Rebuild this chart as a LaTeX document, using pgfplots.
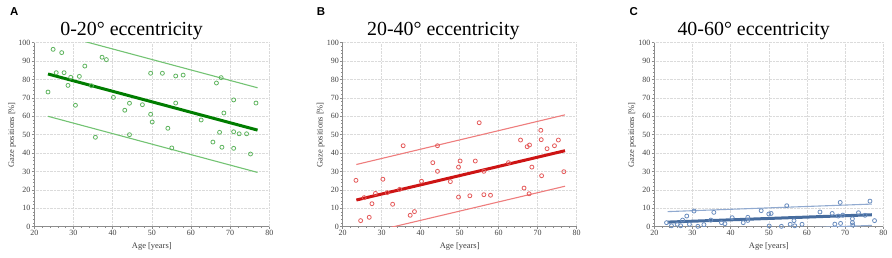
\documentclass[border=0pt]{standalone}
\usepackage{fontspec}
\setmainfont{Liberation Serif}
\newfontfamily\letterfont{Liberation Sans}
\usepackage{pgfplots}
\pgfplotsset{compat=1.18}

\definecolor{gpt}{RGB}{95,180,95}
\definecolor{gln}{RGB}{0,125,0}
\definecolor{gbd}{RGB}{115,195,115}
\definecolor{rpt}{RGB}{228,90,90}
\definecolor{rln}{RGB}{205,20,20}
\definecolor{rbd}{RGB}{238,125,125}
\definecolor{bpt}{RGB}{105,140,190}
\definecolor{bln}{RGB}{70,108,158}
\definecolor{bbd}{RGB}{145,170,208}

\pgfplotsset{
  panel/.style={
    anchor=south west, scale only axis, height=184bp,
    xmin=20, xmax=80, ymin=0, ymax=100,
    xtick={20,30,...,80}, ytick={0,10,...,100},
    minor x tick num=4, minor y tick num=4,
    axis x line*=bottom, axis y line*=left,
    axis line style={black!45, -, line width=0.6bp},
    tick style={black!45, line width=0.5bp},
    tick align=outside, major tick length=2.5bp, minor tick length=1.5bp,
    grid=major, major grid style={black!14, densely dotted, line width=0.45bp},
    ticklabel style={font=\fontsize{8}{8}\selectfont, text=black!75, inner sep=1.2bp},
    /pgf/number format/assume math mode=true,
    xlabel={Age [years]}, ylabel={Gaze positions [\%]},
    label style={font=\fontsize{8.5}{9}\selectfont, text=black!75},
    xlabel style={at={(axis description cs:0.5,0)}, anchor=base, yshift=-21.3bp},
    clip=true,
  },
  pts/.style={only marks, mark=o, mark size=2bp, mark options={line width=0.8bp}},
}

\begin{document}
\begin{tikzpicture}[x=1bp,y=1bp]
\path[use as bounding box] (0,0) rectangle (892,257);

% ---------- Panel A ----------
\begin{axis}[panel, at={(34.3bp,30.3bp)}, width=235bp,
  ylabel style={at={(axis description cs:-0.095,0.5)}, anchor=center}]
\addplot[pts, gpt] coordinates {
(23.5,73.2)(24.8,96.4)(27.0,94.6)(25.6,83.7)(27.6,83.7)(29.3,81.2)(28.6,76.8)
(31.5,81.7)(32.9,87.3)(30.5,66.0)(34.6,76.6)(35.6,48.6)(37.3,92.1)(38.4,90.8)
(40.2,70.3)(43.1,63.3)(44.3,67.1)(44.3,50.0)(47.6,66.3)(49.7,83.4)(49.7,61.1)
(50.1,56.9)(52.7,83.4)(54.1,53.5)(55.1,42.8)(56.1,81.9)(56.1,67.2)(58.0,82.4)
(62.6,58.0)(65.6,46.0)(66.5,78.1)(67.3,51.3)(67.7,81.0)(67.9,43.2)(68.4,61.8)
(70.9,68.9)(70.9,51.6)(70.9,42.6)(72.3,50.5)(74.2,50.5)(75.2,39.5)(76.6,67.2)};
\addplot[gbd, line width=1.1bp] coordinates {(23.5,106) (77,75.5)};
\addplot[gbd, line width=1.1bp] coordinates {(23.5,60) (77,29.5)};
\addplot[gln, line width=3bp] coordinates {(23.5,83) (77,52.5)};
\end{axis}

% ---------- Panel B ----------
\begin{axis}[panel, at={(342.7bp,30.3bp)}, width=234bp,
  ylabel style={at={(axis description cs:-0.095,0.5)}, anchor=center}]
\addplot[pts, rpt] coordinates {
(23.4,25.2)(24.6,3.3)(25.5,15.8)(26.8,5.1)(27.5,12.5)(28.4,18.1)(30.3,25.8)
(31.4,18.5)(32.8,12.2)(34.6,20.3)(35.5,44.0)(37.3,6.2)(38.4,8.2)(40.2,24.7)
(43.1,34.8)(44.3,44.0)(44.3,30.1)(47.6,24.5)(49.7,16.1)(49.7,32.4)(50.1,35.7)
(52.6,16.8)(54.0,35.7)(55.0,56.5)(56.2,30.1)(56.2,17.4)(57.9,17.1)(62.5,34.8)
(65.6,47.1)(66.5,21.0)(67.3,43.5)(67.9,44.4)(67.8,17.9)(68.5,32.4)(70.8,52.4)
(70.9,47.3)(71.0,27.7)(72.4,42.4)(74.3,44.0)(75.3,47.1)(76.7,29.9)};
\addplot[rbd, line width=1.1bp] coordinates {(23.5,33.8) (77,60.8)};
\addplot[rbd, line width=1.1bp] coordinates {(23.5,-4.8) (77,22)};
\addplot[rln, line width=3bp] coordinates {(23.5,14.5) (77,41.3)};
\end{axis}

% ---------- Panel C ----------
\begin{axis}[panel, at={(654.3bp,30.3bp)}, width=229bp,
  ylabel style={at={(axis description cs:-0.0975,0.5)}, anchor=center}]
\addplot[pts, bpt] coordinates {
(23.2,2.2)(24.5,0.5)(26.0,1.3)(26.9,0.5)(27.4,3.6)(28.5,5.8)(29.2,1.3)(30.4,8.5)
(31.4,0.2)(33.0,1.1)(34.8,3.6)(35.6,7.8)(37.6,2.2)(38.5,1.6)(40.4,4.9)(43.3,2.2)
(44.5,5.1)(44.5,3.4)(48.0,8.7)(50.0,6.9)(50.6,7.2)(50.1,0.4)(53.3,0.2)(54.7,11.4)
(55.6,1.3)(56.6,3.3)(56.8,0.5)(58.7,1.3)(63.4,8.0)(66.6,7.2)(67.3,1.4)(68.2,5.8)
(68.7,13.2)(68.8,1.8)(69.4,6.3)(71.9,2.2)(71.9,4.3)(72.0,0.9)(73.5,7.6)(75.2,6.2)
(76.5,13.9)(77.7,3.3)};
\addplot[bbd, line width=1.1bp] coordinates {(23.5,8.2) (77,12.3)};
\addplot[bbd, line width=1.1bp] coordinates {(23.5,-3.3) (77,0.7)};
\addplot[bln, line width=3bp] coordinates {(23.5,2.5) (77,6.5)};
\end{axis}

% ---------- Titles and letters ----------
\node[anchor=base, inner sep=0, font=\fontsize{20}{20}\selectfont] at (131.5,222) {0-20° eccentricity};
\node[anchor=base, inner sep=0, font=\fontsize{20}{20}\selectfont] at (443.3,222) {20-40° eccentricity};
\node[anchor=base, inner sep=0, font=\fontsize{20}{20}\selectfont] at (753.7,222) {40-60° eccentricity};
\node[anchor=base west, inner sep=0, font=\letterfont\bfseries\fontsize{11.5}{12}\selectfont] at (10,242) {A};
\node[anchor=base west, inner sep=0, font=\letterfont\bfseries\fontsize{11.5}{12}\selectfont] at (316.7,242) {B};
\node[anchor=base west, inner sep=0, font=\letterfont\bfseries\fontsize{11.5}{12}\selectfont] at (629.3,242) {C};
\end{tikzpicture}
\end{document}
